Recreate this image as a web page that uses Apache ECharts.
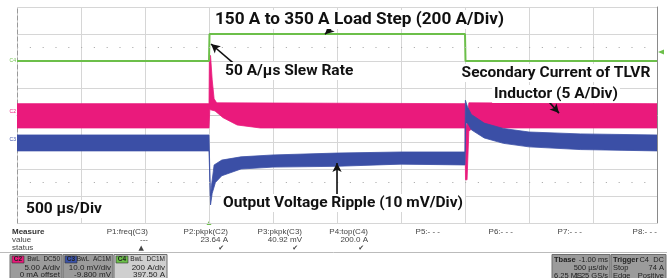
<!DOCTYPE html>
<html><head><meta charset="utf-8">
<script src="https://cdn.jsdelivr.net/npm/echarts@6/dist/echarts.min.js"></script>
<style>html,body{margin:0;padding:0;background:#fff}#c{width:667px;height:278px}</style>
</head><body><div id="c"></div>
<script>
// ---- data (time in µs, vertical in scope divisions from screen centre) ----
const timeMin = 0, timeMax = 5000, timePerDiv = 500;   // 500 µs/Div, 10 divisions
const divMin = -4, divMax = 4;                            // 8 vertical divisions

// C4: load current step 150 A -> 350 A -> 150 A (200 A/div)
const loadCurrent = [[0,2.0],[1500,2.0],[1504,3.0],[3500,3.0],[3504,2.0],[5000,2.0]];

// C2: secondary current of TLVR inductor, noise envelope (upper / lower)
const secUpper = [[0,0.42],[1500,0.42],[1503,2.2],[1512,2.2],[1525,1.3],[1540,0.6],[1560,0.45],[3500,0.42],
                  [3504,-0.5],[3516,-0.3],[3530,0.45],[5000,0.42]];
const secLower = [[0,-0.48],[1500,-0.48],[1506,0.2],[1547,0.15],[1610,-0.1],[1720,-0.37],[1900,-0.48],[3500,-0.48],
                  [3504,-2.4],[3516,-2.4],[3530,-0.6],[3560,-0.48],[5000,-0.48]];

// C3: output voltage ripple, noise envelope (upper / lower)
const rippleUpper = [[0,-0.74],[1500,-0.74],[1506,-2.0],[1511,-3.0],[1520,-2.6],[1540,-1.85],[1600,-1.67],[1750,-1.55],
                     [2000,-1.48],[2500,-1.41],[3000,-1.37],[3500,-1.37],[3503,0.55],[3520,0.3],[3550,0.02],[3650,-0.3],
                     [3800,-0.5],[4000,-0.63],[4400,-0.7],[5000,-0.74]];
const rippleLower = [[0,-1.33],[1500,-1.33],[1512,-3.33],[1525,-2.9],[1550,-2.5],[1600,-2.25],[1750,-2.0],[2000,-1.93],
                     [2500,-1.9],[3000,-1.82],[3500,-1.85],[3506,-0.3],[3520,-0.3],[3550,-0.55],[3650,-0.85],
                     [3800,-1.05],[4000,-1.18],[4400,-1.28],[5000,-1.33]];

// annotation arrows: [tail, head]
const arrowLoad = [[2469,3.27],[2406,2.99]];
const arrowSlew = [[1688,1.93],[1516,2.63]];
const arrowSec = [[4109,0.74],[4234,0.07]];
const arrowRipple = [[2500,-2.96],[2500,-1.78]];
const dottedLevels = [2.5,-2.5];

// measurement table
const measureNames = ['P1:freq(C3)','P2:pkpk(C2)','P3:pkpk(C3)','P4:top(C4)','P5:- - -','P6:- - -','P7:- - -','P8:- - -'];
const measureValues = ['---','23.64 A','40.92 mV','200.0 A','','','',''];
const measureStatus = ['▲','✔','✔','✔','','','',''];
const channelBoxes = [
  {ch:'C2', color:'#e8197a', l1:'BwL  DC50', l2:'5.00 A/div', l3:'0 mA offset'},
  {ch:'C3', color:'#3a52a8', l1:'BwL  AC1M', l2:'10.0 mV/div', l3:'-9.800 mV'},
  {ch:'C4', color:'#6cbf4a', l1:'BwL  DC1M', l2:'200 A/div', l3:'397.50 A'}
];
const tbaseRows = [['Tbase','-1.00 ms'],['','500 µs/div'],['6.25 MS','1.25 GS/s']];
const triggerRows = [['Trigger','C4  DC'],['Stop','74 A'],['Edge','Positive']];

// ---- chart ----
const PINK = '#ea1a7c', BLUE = '#3b4fa6', GREEN = '#6cbf4a';
const chart = echarts.init(document.getElementById('c'), null, {renderer:'canvas'});

function band(name, upper, lower, color, z) {
  return {
    type:'custom', name, z, clip:true, data:[[0,0]], silent:true,
    renderItem:(params, api) => {
      const pts = upper.map(p => api.coord(p)).concat(lower.slice().reverse().map(p => api.coord(p)));
      return {type:'polygon', shape:{points:pts}, style:{fill:color, stroke:color, lineWidth:0.8}};
    }
  };
}
function arrow(pair) {
  return [{coord:pair[0], symbol:'none', lineStyle:{color:'#111', width:1.6, type:'solid'}},
          {coord:pair[1], symbol:'arrow', symbolSize:[7,9]}];
}

const graphics = [];
function ann(text, x, y, align, size) {
  graphics.push({type:'text', z:100, style:{text, x, y, font:'bold ' + (size||15.5) + 'px Roboto', fill:'#111', align:align||'left',
    verticalAlign:'middle', backgroundColor:'#fff', padding:[1,2]}});
}
ann('150 A to 350 A Load Step (200 A/Div)', 213, 19.5, 'left', 17.2);
ann('50 A/µs Slew Rate', 223, 71);
ann('Secondary Current of TLVR', 556, 73, 'center');
ann('Inductor (5 A/Div)', 556, 94, 'center');
ann('Output Voltage Ripple (10 mV/Div)', 221, 203);
ann('500 µs/Div', 24, 209);

// channel ground markers at left
[['C4',61,GREEN],['C2',112,PINK],['C3',140,BLUE]].forEach(([t,y,c]) => {
  graphics.push({type:'text', style:{text:t, x:16, y, font:'5px Liberation Sans', fill:c, align:'right', verticalAlign:'middle'}});
});
// right level marker & trigger position marker
graphics.push({type:'polygon', shape:{points:[[658,52],[664,49.5],[664,54.5]]}, style:{fill:GREEN}});
graphics.push({type:'polygon', shape:{points:[[209,221],[206.5,225],[211.5,225]]}, style:{fill:GREEN}});

// measurement table
const small = '8px Liberation Sans';
graphics.push({type:'text', style:{text:'Measure', x:12, y:232, font:'bold 8px Liberation Sans', fill:'#333', verticalAlign:'middle'}});
graphics.push({type:'text', style:{text:'value', x:12, y:240, font:small, fill:'#444', verticalAlign:'middle'}});
graphics.push({type:'text', style:{text:'status', x:12, y:248, font:small, fill:'#444', verticalAlign:'middle'}});
const colRight = [148,228,302,368,440,513,582,657];
measureNames.forEach((n,i) => {
  graphics.push({type:'text', style:{text:n, x:colRight[i], y:232, font:small, fill:'#444', align:'right', verticalAlign:'middle'}});
  if (measureValues[i]) graphics.push({type:'text', style:{text:measureValues[i], x:colRight[i], y:240, font:small, fill:'#444', align:'right', verticalAlign:'middle'}});
  if (measureStatus[i]) graphics.push({type:'text', style:{text:measureStatus[i], x:colRight[i]-4, y:248, font:'7px DejaVu Sans', fill:'#444', align:'right', verticalAlign:'middle'}});
});
graphics.push({type:'line', shape:{x1:0,y1:252.5,x2:667,y2:252.5}, style:{stroke:'#bbb', lineWidth:1}});

// channel boxes
const boxX = [10,63,114], boxW = [52,50,53];
channelBoxes.forEach((b,i) => {
  const x = boxX[i], w = boxW[i];
  graphics.push({type:'rect', shape:{x, y:254.5, width:w, height:26}, style:{fill: i===2 ? '#cfcfcf' : '#9b9b9b', stroke:'#6f6f6f', lineWidth:1}});
  graphics.push({type:'rect', shape:{x:x+2, y:256, width:12, height:7}, style:{fill:b.color, stroke:'#333', lineWidth:0.6}});
  graphics.push({type:'text', style:{text:b.ch, x:x+8, y:259.7, font:'bold 6.5px Liberation Sans', fill:'#222', align:'center', verticalAlign:'middle'}});
  graphics.push({type:'text', style:{text:b.l1, x:x+w-2, y:259.5, font:'6.5px Liberation Sans', fill:'#222', align:'right', verticalAlign:'middle'}});
  graphics.push({type:'text', style:{text:b.l2, x:x+w-2, y:267.5, font:small, fill:'#222', align:'right', verticalAlign:'middle'}});
  graphics.push({type:'text', style:{text:b.l3, x:x+w-2, y:275, font:small, fill:'#222', align:'right', verticalAlign:'middle'}});
});
// Tbase & Trigger boxes
[[552,58,tbaseRows],[611,55,triggerRows]].forEach(([x,w,rows]) => {
  graphics.push({type:'rect', shape:{x, y:254.5, width:w, height:26}, style:{fill:'#9b9b9b', stroke:'#6f6f6f', lineWidth:1}});
  rows.forEach((r,j) => {
    const y = 259.5 + j*8;
    if (r[0]) graphics.push({type:'text', style:{text:r[0], x:x+2, y, font: j===0 ? 'bold 7.5px Liberation Sans' : '7.5px Liberation Sans', fill:'#222', verticalAlign:'middle'}});
    graphics.push({type:'text', style:{text:r[1], x:x+w-2, y, font:'7.5px Liberation Sans', fill:'#222', align:'right', verticalAlign:'middle'}});
  });
});

const gridCol = '#d6d6d6';
chart.setOption({
  animation:false,
  grid:{left:17, top:7, width:640, height:216, containLabel:false},
  xAxis:{type:'value', min:timeMin, max:timeMax, interval:timePerDiv,
    axisLine:{show:true, lineStyle:{color:'#c8c8c8'}}, axisTick:{show:false}, axisLabel:{show:false},
    splitLine:{show:true, lineStyle:{color:gridCol, width:1}}},
  yAxis:[
    {type:'value', min:divMin, max:divMax, interval:1,
     axisLine:{show:true, onZero:false, lineStyle:{color:'#999', type:[4,3]}}, axisTick:{show:false}, axisLabel:{show:false},
     splitLine:{show:true, lineStyle:{color:gridCol, width:1}}},
    {type:'value', min:divMin, max:divMax, interval:1, position:'right',
     axisLine:{show:true, onZero:false, lineStyle:{color:'#8a8a8a'}}, axisTick:{show:false}, axisLabel:{show:false}, splitLine:{show:false}}
  ],
  series:[
    band('Secondary Current of TLVR Inductor', secUpper, secLower, PINK, 2),
    band('Output Voltage Ripple', rippleUpper, rippleLower, BLUE, 3),
    {type:'line', name:'Load Step', data:loadCurrent, showSymbol:false, z:4,
     lineStyle:{color:GREEN, width:2},
     markLine:{silent:true, animation:false, symbol:['none','none'], label:{show:false},
       data:[
         ...dottedLevels.map(v => ({yAxis:v, lineStyle:{color:'#b0b0b0', width:1, type:[1.2,11.6]}})),
         arrow(arrowLoad), arrow(arrowSlew), arrow(arrowSec), arrow(arrowRipple)
       ]}}
  ],
  graphic:graphics
});
</script></body></html>
